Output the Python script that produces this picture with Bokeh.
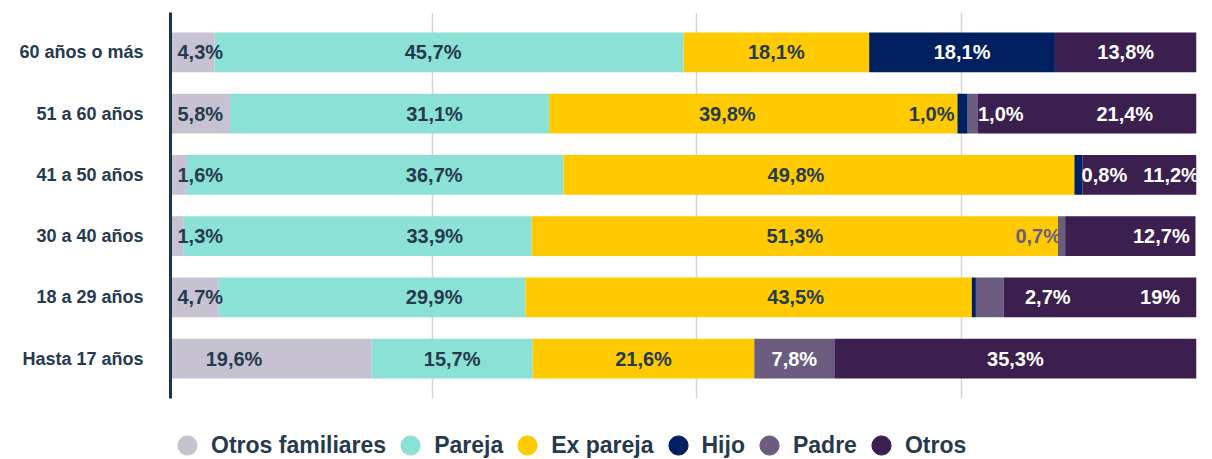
from bokeh.plotting import figure
from bokeh.layouts import column
from bokeh.models import FactorRange, ColumnDataSource, Legend, LegendItem, FixedTicker, Range1d
from bokeh.core.properties import value
from bokeh.embed import file_html
from bokeh.resources import INLINE

# ---- data ----
categories = ["60 años o más", "51 a 60 años", "41 a 50 años",
              "30 a 40 años", "18 a 29 años", "Hasta 17 años"]
series = ["Otros familiares", "Pareja", "Ex pareja", "Hijo", "Padre", "Otros"]
otros_familiares = [4.3, 5.8, 1.6, 1.3, 4.7, 19.6]
pareja = [45.7, 31.1, 36.7, 33.9, 29.9, 15.7]
ex_pareja = [18.1, 39.8, 49.8, 51.3, 43.5, 21.6]
hijo = [18.1, 1.0, 0.8, 0.0, 0.4, 0.0]
padre = [0.0, 1.0, 0.0, 0.7, 2.7, 7.8]
otros = [13.8, 21.4, 11.2, 12.7, 19.0, 35.3]
grid_ticks = [25.5, 51.3, 77.1]
label_text_override = {(4, "Otros"): "19%"}
label_skip = {(4, "Hijo")}

# ---- style ----
colors = ["#c6c2d1", "#8be1d5", "#ffcb00", "#002060", "#6c5d80", "#3b1f4f"]
DARK = "#263a4e"
FONT = "Liberation Sans"
label_default_color = [DARK, DARK, DARK, "white", "white", "white"]
# (row, series) -> (anchor, px offset, color or None)
label_rules = {
    (0, "Otros familiares"): ("start", 7, None),
    (1, "Otros familiares"): ("start", 7, None),
    (2, "Otros familiares"): ("start", 7, None),
    (3, "Otros familiares"): ("start", 7, None),
    (4, "Otros familiares"): ("start", 7, None),
    (1, "Hijo"): ("before", -3, DARK),
    (1, "Padre"): ("after", 0, None),
    (2, "Hijo"): ("after", -1, None),
    (3, "Padre"): ("before", 3, "#6c5d80"),
}
label_nudge = {
    (0, "Pareja"): -16, (1, "Pareja"): 45, (1, "Ex pareja"): -26, (1, "Otros"): 37,
    (2, "Pareja"): 59, (2, "Ex pareja"): -23, (2, "Otros"): 31,
    (3, "Pareja"): 77, (3, "Otros"): 31,
    (4, "Pareja"): 62, (4, "Ex pareja"): 47, (4, "Padre"): 58, (4, "Otros"): 59,
    (5, "Otros familiares"): -37,
}

keys = ["of", "pa", "ex", "hi", "pd", "ot"]
vals = [otros_familiares, pareja, ex_pareja, hijo, padre, otros]
src = ColumnDataSource(dict(cat=categories, **{k: v for k, v in zip(keys, vals)}))

p = figure(width=1204, height=400, output_backend="svg", toolbar_location=None,
           y_range=FactorRange(factors=list(reversed(categories)),
                               range_padding=0.15, range_padding_units="absolute"),
           x_range=(0, 100), x_axis_location=None,
           min_border_left=170, min_border_right=8, min_border_top=12, min_border_bottom=2)
p.outline_line_color = None
p.background_fill_color = "white"
p.ygrid.visible = False
p.xgrid.ticker = FixedTicker(ticks=grid_ticks)
p.xgrid.grid_line_color = "#d6d6d6"
p.xgrid.grid_line_width = 1.5

p.hbar_stack(keys, y="cat", height=0.65, color=colors, line_color=None, source=src)

# ---- labels ----
lx, ly, lt, lc, la, ld = [], [], [], [], [], []
for i, cat in enumerate(categories):
    cum = 0.0
    for j, s in enumerate(series):
        v = vals[j][i]
        start, end = cum, cum + v
        cum = end
        if v <= 0 or (i, s) in label_skip:
            continue
        txt = label_text_override.get((i, s), f"{v:.1f}".replace(".", ",") + "%")
        anchor, off, col = label_rules.get((i, s), ("center", label_nudge.get((i, s), 0), None))
        if anchor == "start":
            x, al = start, "left"
        elif anchor == "before":
            x, al = start, "right"
        elif anchor == "after":
            x, al = end, "left"
        else:
            x, al = (start + end) / 2, "center"
        lx.append(x); ly.append(cat); lt.append(txt)
        lc.append(col or label_default_color[j]); la.append(al); ld.append(off)

lsrc = ColumnDataSource(dict(x=lx, y=ly, text=lt, color=lc, align=la, dx=ld))
p.text(x="x", y="y", text="text", source=lsrc, x_offset="dx",
       text_font=value(FONT), text_font_style="bold", text_font_size="20px",
       text_color="color", text_align="align", text_baseline="middle")

# ---- axis ----
ax = p.yaxis[0]
ax.axis_line_color = "#1e3448"
ax.axis_line_width = 3
ax.major_tick_line_color = None
ax.minor_tick_line_color = None
ax.major_tick_out = 0
ax.major_label_standoff = 27
ax.major_label_text_font = FONT
ax.major_label_text_font_style = "bold"
ax.major_label_text_font_size = "18px"
ax.major_label_text_color = DARK

# ---- legend (own strip below the chart; frame aligned with the chart) ----
pl = figure(width=1204, height=59, output_backend="svg", toolbar_location=None,
            x_axis_location=None, y_axis_location=None,
            x_range=Range1d(0, 1), y_range=Range1d(0, 1),
            min_border_left=170, min_border_right=8, min_border_top=0, min_border_bottom=0)
pl.outline_line_color = None
pl.xgrid.visible = False
pl.ygrid.visible = False
items = []
for s, c in zip(series, colors):
    # legend swatch source kept outside the visible range
    r = pl.scatter(x=[-5], y=[-5], marker="circle", fill_color=c, line_color=c)
    items.append(LegendItem(label=s, renderers=[r]))
legend = Legend(items=items, orientation="horizontal", location=(-7, -12),
                glyph_width=48, glyph_height=52, label_standoff=0, spacing=0,
                padding=0, margin=0, border_line_color=None, background_fill_alpha=0,
                label_text_font=FONT, label_text_font_style="bold",
                label_text_font_size="23px", label_text_color=DARK)
pl.add_layout(legend, "center")

open("out.html", "w").write(file_html(column(p, pl, spacing=0), INLINE))
